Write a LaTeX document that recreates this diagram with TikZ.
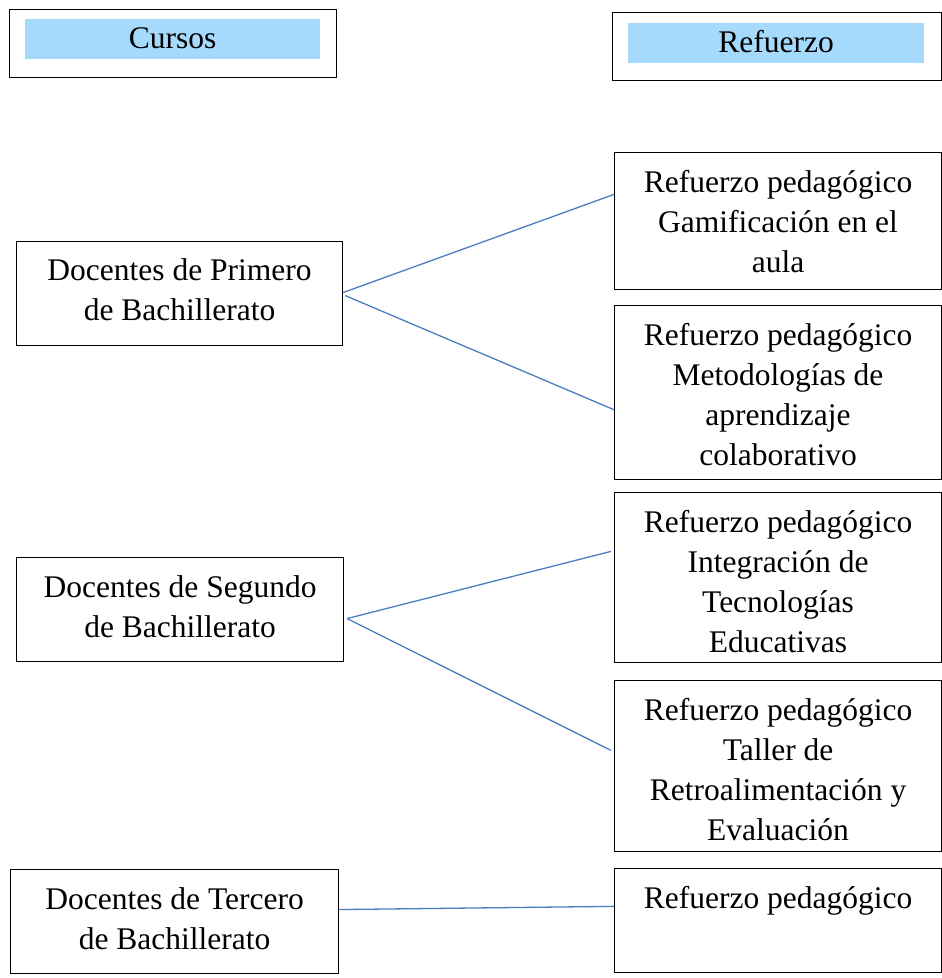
\documentclass[tikz,border=0pt]{standalone}
\usepackage{fontspec}
\setmainfont{Liberation Serif}
\usetikzlibrary{calc}
\definecolor{hdrblue}{HTML}{A6DAFD}
\definecolor{linkblue}{HTML}{4A7EC0}
\begin{document}
\begin{tikzpicture}[x=1pt,y=-1pt,
  box/.style={draw=black, line width=1.1pt, inner sep=0pt, anchor=north west, font={\fontsize{31.5}{40}\selectfont}},
  hdr/.style={fill=hdrblue, inner sep=0pt, anchor=north west, font={\fontsize{31.5}{40}\selectfont}},
  link/.style={draw=linkblue, line width=1.3pt}]
\useasboundingbox (0,0) rectangle (942,978);
% headers
\node[box, minimum width=327pt, minimum height=68pt] (hc) at (9,9) {};
\node[hdr, minimum width=295pt, minimum height=40pt] (cursos) at (25,19) {\raisebox{2pt}{Cursos}};
\node[box, minimum width=329pt, minimum height=68pt] (hr) at (612,12) {};
\node[hdr, minimum width=296pt, minimum height=40pt] (refuerzo) at (628,23) {\raisebox{3pt}{Refuerzo}};
% left boxes
\node[box] (p) at (16,241) {\parbox[c][104pt][t]{326pt}{\centering\rule{0pt}{39pt}Docentes de Primero\\de Bachillerato}};
\node[box] (s) at (16,557) {\parbox[c][104pt][t]{327pt}{\centering\rule{0pt}{40pt}Docentes de Segundo\\de Bachillerato}};
\node[box] (t) at (10,869) {\parbox[c][104pt][t]{328pt}{\centering\rule{0pt}{40pt}Docentes de Tercero\\de Bachillerato}};
% right boxes
\node[box] (r1) at (614,152) {\parbox[c][137pt][t]{327pt}{\centering\rule{0pt}{40pt}Refuerzo pedagógico\\Gamificación en el\\aula}};
\node[box] (r2) at (614,305) {\parbox[c][174pt][t]{327pt}{\centering\rule{0pt}{40pt}Refuerzo pedagógico\\Metodologías de\\aprendizaje\\colaborativo}};
\node[box] (r3) at (614,492) {\parbox[c][170pt][t]{327pt}{\centering\rule{0pt}{40pt}Refuerzo pedagógico\\Integración de\\Tecnologías\\Educativas}};
\node[box] (r4) at (614,680) {\parbox[c][171pt][t]{327pt}{\centering\rule{0pt}{40pt}Refuerzo pedagógico\\Taller de\\Retroalimentación y\\Evaluación}};
\node[box] (r5) at (614,868) {\parbox[c][104pt][t]{327pt}{\centering\rule{0pt}{40pt}Refuerzo pedagógico}};
% connector ends
\coordinate (pa) at ($(p.east)+(0,-1)$);
\coordinate (pb) at ($(p.east)+(2,2)$);
\coordinate (sj) at ($(s.east)+(3,9)$);
\coordinate (tj) at ($(t.east)+(0,-12)$);
\coordinate (e1) at ($(r1.north west)!0.307!(r1.south west)$);
\coordinate (e2) at ($(r2.north west)!0.598!(r2.south west)$);
\coordinate (e3) at ($(r3.north west)!0.347!(r3.south west)+(-3,0)$);
\coordinate (e4) at ($(r4.north west)!0.409!(r4.south west)+(-3,0)$);
\coordinate (e5) at ($(r5.north west)!0.365!(r5.south west)$);
\draw[link] (pa) -- (e1);
\draw[link] (pb) -- (e2);
\draw[link] (sj) -- (e3);
\draw[link] (sj) -- (e4);
\draw[link] (tj) -- (e5);
\end{tikzpicture}
\end{document}
